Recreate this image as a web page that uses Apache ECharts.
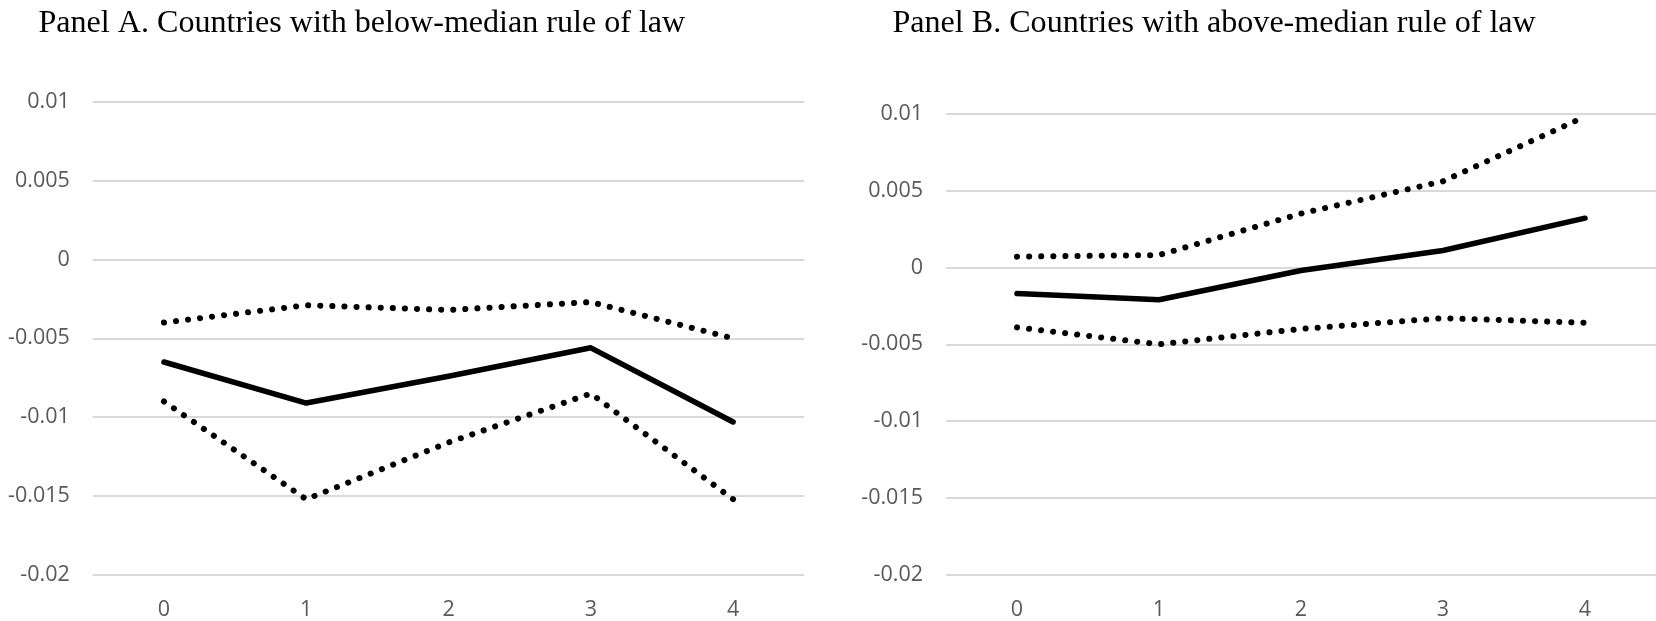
<!DOCTYPE html>
<html>
<head>
<meta charset="utf-8">
<script src="https://cdn.jsdelivr.net/npm/echarts@6/dist/echarts.min.js"></script>
<style>
html, body { margin: 0; padding: 0; background: #fff; }
#chart { width: 1656px; height: 621px; }
</style>
</head>
<body>
<div id="chart"></div>
<script>
// ---- Data ----
const categories = ['0', '1', '2', '3', '4'];

const panelATitle = 'Panel A. Countries with below-median rule of law';
const panelAEstimate = [-0.0065, -0.0091, -0.0074, -0.0056, -0.0103];
const panelAUpper    = [-0.0040, -0.0029, -0.0032, -0.0027, -0.0050];
const panelALower    = [-0.0090, -0.0152, -0.0116, -0.0085, -0.0152];

const panelBTitle = 'Panel B. Countries with above-median rule of law';
const panelBEstimate = [-0.0017, -0.0021, -0.0002, 0.0011, 0.0032];
const panelBUpper    = [0.0007, 0.0008, 0.0035, 0.0056, 0.0098];
const panelBLower    = [-0.0039, -0.0050, -0.0040, -0.0033, -0.0036];

const yMin = -0.02, yMax = 0.01, yStep = 0.005;

// ---- Styling ----
const labelFont = { fontFamily: 'Open Sans', fontSize: 21.5, color: '#595959' };
const gridColor = '#d9d9d9';
const titleFont = { fontFamily: 'Liberation Serif', fontSize: 32.1, fontWeight: 'normal', color: '#000' };

function xAxisFor(gridIndex) {
  return {
    type: 'category', gridIndex, data: categories, boundaryGap: true,
    axisLine: { show: false }, axisTick: { show: false },
    axisLabel: Object.assign({ margin: 24 }, labelFont),
    splitLine: { show: false }
  };
}
function yAxisFor(gridIndex) {
  return {
    type: 'value', gridIndex, min: yMin, max: yMax, interval: yStep,
    axisLine: { show: false }, axisTick: { show: false },
    axisLabel: Object.assign({ margin: 23, formatter: v => String(+v.toFixed(3)) }, labelFont),
    splitLine: { show: true, lineStyle: { color: gridColor, width: 2 } }
  };
}
function solid(idx, data) {
  return {
    type: 'line', xAxisIndex: idx, yAxisIndex: idx, data, symbol: 'none', silent: true,
    lineStyle: { color: '#000', width: 5.5, cap: 'round', join: 'round' }, z: 3
  };
}
function dotted(idx, data) {
  return {
    type: 'line', xAxisIndex: idx, yAxisIndex: idx, data, symbol: 'none', silent: true,
    lineStyle: { color: '#000', width: 6, type: [0.1, 12], cap: 'round', join: 'round' }, z: 2
  };
}

const chart = echarts.init(document.getElementById('chart'), null, { renderer: 'canvas' });
chart.setOption({
  backgroundColor: '#fff',
  animation: false,
  title: [
    { text: panelATitle, left: 38.5, top: 7.5, padding: 0, textStyle: titleFont },
    { text: panelBTitle, left: 892.5, top: 7.5, padding: 0, textStyle: titleFont }
  ],
  grid: [
    { left: 92.8, right: 851.7, top: 101.7, bottom: 43.3, containLabel: false },
    { left: 946, right: -1.5, top: 113.6, bottom: 44.4, containLabel: false }
  ],
  xAxis: [xAxisFor(0), xAxisFor(1)],
  yAxis: [yAxisFor(0), yAxisFor(1)],
  series: [
    solid(0, panelAEstimate), dotted(0, panelAUpper), dotted(0, panelALower),
    solid(1, panelBEstimate), dotted(1, panelBUpper), dotted(1, panelBLower)
  ]
});
</script>
</body>
</html>
